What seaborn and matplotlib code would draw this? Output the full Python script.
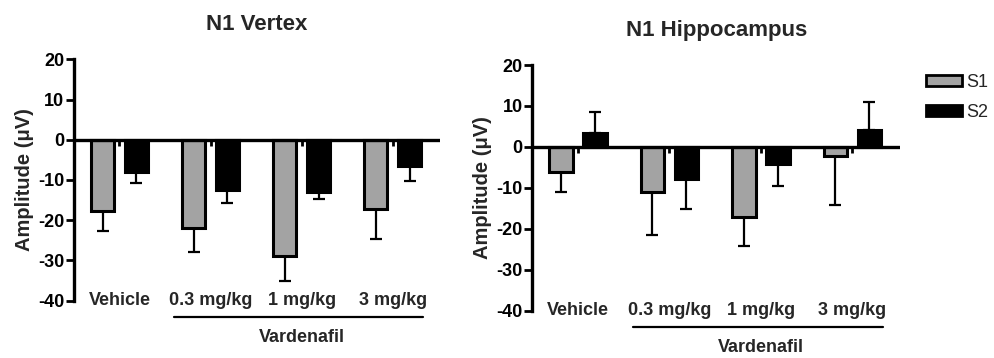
import numpy as np
import pandas as pd
import matplotlib
matplotlib.use("Agg")
import matplotlib.pyplot as plt
import matplotlib.transforms as mtransforms
import seaborn as sns
from matplotlib.patches import Patch

# ---------------- data ----------------
categories = ["Vehicle", "0.3 mg/kg", "1 mg/kg", "3 mg/kg"]
sessions = ["S1", "S2"]

vertex_s1 = [-17.8, -22.0, -28.9, -17.1]
vertex_s1_err = [4.8, 5.8, 6.1, 7.6]
vertex_s2 = [-7.9, -12.4, -13.0, -6.6]
vertex_s2_err = [2.8, 3.3, 1.7, 3.6]

hippo_s1 = [-6.2, -11.1, -17.2, -2.3]
hippo_s1_err = [4.8, 10.3, 7.1, 12.0]
hippo_s2 = [3.3, -7.8, -4.1, 4.1]
hippo_s2_err = [5.3, 7.3, 5.4, 6.8]

titles = ["N1 Vertex", "N1 Hippocampus"]
y_label = "Amplitude (\u03bcV)"
group_label = "Vardenafil"
y_ticks = [20, 10, 0, -10, -20, -30, -40]

# ---------------- style ----------------
sns.set_style("white")
plt.rcParams["font.family"] = ["Liberation Sans", "DejaVu Sans"]
plt.rcParams["font.weight"] = "bold"

palette = {"S1": "#a3a3a3", "S2": "#000000"}

fig = plt.figure(figsize=(9.94, 3.58), dpi=100)
ax_left = fig.add_axes([0.0744, 0.1601, 0.3683, 0.6743])
ax_right = fig.add_axes([0.5355, 0.1321, 0.3699, 0.6863])


def draw_panel(ax, title, s1, s1e, s2, s2e):
    df = pd.DataFrame({
        "cat": categories * 2,
        "session": ["S1"] * len(categories) + ["S2"] * len(categories),
        "val": list(s1) + list(s2),
        "err": list(s1e) + list(s2e),
    })
    sns.barplot(data=df, x="cat", y="val", hue="session", order=categories,
                hue_order=sessions, palette=palette, edgecolor="black",
                linewidth=2.2, width=0.744, gap=0.32, errorbar=None,
                legend=False, ax=ax, zorder=2)
    # one-sided error bars at the bar centres
    for p in list(ax.patches):
        xc = p.get_x() + p.get_width() / 2
        i = int(round(xc))
        sess = "S1" if xc < i else "S2"
        row = df[(df["cat"] == categories[i]) & (df["session"] == sess)].iloc[0]
        v, e = row["val"], row["err"]
        lo = [e] if v < 0 else [0]
        hi = [e] if v > 0 else [0]
        ax.errorbar([xc], [v], yerr=[lo, hi], fmt="none", ecolor="black",
                    elinewidth=1.6, capsize=4.2, capthick=1.6, zorder=1)
    # small notch between the two bars of each group
    ax.vlines(range(len(categories)), 0, -1.6, color="black", lw=2.0, zorder=3)
    ax.set_xlim(-0.5, 3.52)
    ax.set_ylim(-40, 20)
    ax.axhline(0, color="black", lw=2.4, zorder=4)
    for s in ["top", "right", "bottom"]:
        ax.spines[s].set_visible(False)
    ax.spines["left"].set_linewidth(2.4)
    ax.spines["left"].set_color("black")
    ax.set_yticks(y_ticks)
    ax.set_yticklabels([str(t) for t in y_ticks], fontsize=13, fontweight="bold")
    ax.tick_params(axis="y", direction="out", length=6, width=2.0, pad=1,
                   colors="black", left=True)
    ax.set_xticks([])
    ax.set_xlabel("")
    ax.set_ylabel(y_label, fontsize=14.5, fontweight="bold")
    ax.yaxis.set_label_coords(-0.11, 0.5)
    ax.set_title(title, fontsize=16, fontweight="bold", pad=21)
    for i, c in enumerate(categories):
        ax.text(i, -40, c, ha="center", va="center", fontsize=13,
                fontweight="bold", clip_on=False)
    # group bracket line and label below the category labels
    trans = ax.transData + mtransforms.ScaledTranslation(0, -16 / 100, fig.dpi_scale_trans)
    ax.plot([0.6, 3.33], [-40, -40], color="black", lw=1.6, transform=trans,
            clip_on=False)
    trans2 = ax.transData + mtransforms.ScaledTranslation(0, -37 / 100, fig.dpi_scale_trans)
    ax.text(2.0, -40, group_label, ha="center", va="center", fontsize=13,
            fontweight="bold", transform=trans2, clip_on=False)
    ax.patch.set_alpha(0)


draw_panel(ax_left, titles[0], vertex_s1, vertex_s1_err, vertex_s2, vertex_s2_err)
draw_panel(ax_right, titles[1], hippo_s1, hippo_s1_err, hippo_s2, hippo_s2_err)

handles = [Patch(facecolor=palette[s], edgecolor="black", linewidth=2.0, label=s)
           for s in sessions]
leg = fig.legend(handles=handles, loc="upper left",
                 bbox_to_anchor=(926 / 994, 1 - 74 / 358), frameon=False,
                 borderpad=0, borderaxespad=0, handlelength=2.0,
                 handleheight=0.6, handletextpad=0.25, labelspacing=0.7,
                 prop={"size": 13, "weight": "normal"})

fig.savefig("out.png", dpi=100, facecolor="white")
